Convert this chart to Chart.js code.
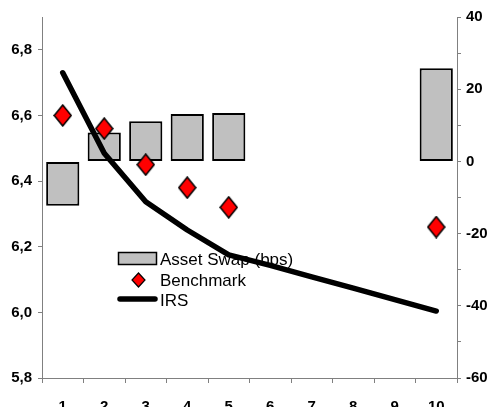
<!DOCTYPE html>
<html>
<head>
<meta charset="utf-8">
<style>
  html, body { margin: 0; padding: 0; background: #ffffff; }
  #wrap { width: 488px; height: 407px; }
</style>
<script src="https://cdn.jsdelivr.net/npm/chart.js@4/dist/chart.umd.min.js"></script>
</head>
<body>
<div id="wrap"><canvas id="chart" width="488" height="407"></canvas></div>
<script>
// Maturities (years)
const categories = ['1', '2', '3', '4', '5', '6', '7', '8', '9', '10'];
// Yields, left axis (%)
const irsYield = [6.73, 6.485, 6.337, 6.251, 6.175, 6.143, 6.108, 6.074, 6.039, 6.004];
const benchmarkYield = [6.60, 6.56, 6.45, 6.38, 6.32, null, null, null, null, 6.26];
// Asset swap spread, right axis (bps)
const assetSwapBps = [-12.3, 8.0, 11.1, 13.1, 13.4, null, null, null, null, 25.8];
// Axis ticks
const leftTicks = [5.8, 6.0, 6.2, 6.4, 6.6, 6.8];
const rightTicks = [-60, -50, -40, -30, -20, -10, 0, 10, 20, 30, 40];
const rightLabelled = [-60, -40, -20, 0, 20, 40];

const FONT = '"Liberation Sans", Arial, sans-serif';
const AXIS_GREY = '#808080';

// Diamond marker drawn into a small canvas so it can be taller than wide
function makeDiamond(w, h, lw) {
  const c = document.createElement('canvas');
  c.width = w + 2; c.height = h + 2;
  const g = c.getContext('2d');
  const cx = c.width / 2, cy = c.height / 2;
  g.beginPath();
  g.moveTo(cx, cy - h / 2);
  g.lineTo(cx + w / 2, cy);
  g.lineTo(cx, cy + h / 2);
  g.lineTo(cx - w / 2, cy);
  g.closePath();
  g.fillStyle = '#ff0000';
  g.fill();
  g.lineWidth = lw;
  g.strokeStyle = '#000000';
  g.lineJoin = 'miter';
  g.stroke();
  return c;
}
const diamond = makeDiamond(17, 21, 1.5);

// Legend drawn inside the plot area, underneath the series
const insideLegend = {
  id: 'insideLegend',
  beforeDatasetsDraw(chart) {
    const ctx = chart.ctx;
    const ds = chart.data.datasets;
    const textX = 160;
    ctx.save();
    ctx.font = '17px ' + FONT;
    ctx.fillStyle = '#000000';
    ctx.textBaseline = 'alphabetic';
    ctx.textAlign = 'left';

    // Asset swap swatch
    ctx.fillStyle = '#c0c0c0';
    ctx.fillRect(118.5, 252.5, 38, 12);
    ctx.lineWidth = 1.5;
    ctx.strokeStyle = '#000000';
    ctx.strokeRect(118.5, 252.5, 38, 12);
    ctx.fillStyle = '#000000';
    ctx.fillText(ds[2].label, textX, 265);

    // Benchmark marker
    ctx.beginPath();
    ctx.moveTo(138.5, 273);
    ctx.lineTo(145, 280);
    ctx.lineTo(138.5, 287);
    ctx.lineTo(132, 280);
    ctx.closePath();
    ctx.fillStyle = '#ff0000';
    ctx.fill();
    ctx.lineWidth = 1.2;
    ctx.stroke();
    ctx.fillStyle = '#000000';
    ctx.fillText(ds[0].label, textX, 285.5);

    // IRS line
    ctx.beginPath();
    ctx.moveTo(120, 299);
    ctx.lineTo(155, 299);
    ctx.lineWidth = 5.5;
    ctx.lineCap = 'round';
    ctx.stroke();
    ctx.fillText(ds[1].label, textX, 306);
    ctx.restore();
  }
};

const tickFont = { family: FONT, size: 15, weight: 'bold' };

new Chart(document.getElementById('chart'), {
  data: {
    labels: categories,
    datasets: [
      {
        type: 'line',
        label: 'Benchmark',
        data: benchmarkYield,
        yAxisID: 'y',
        showLine: false,
        pointStyle: diamond,
        pointRadius: 10,
        order: 0
      },
      {
        type: 'line',
        label: 'IRS',
        data: irsYield,
        yAxisID: 'y',
        borderColor: '#000000',
        borderWidth: 5.5,
        borderCapStyle: 'round',
        borderJoinStyle: 'round',
        tension: 0,
        pointRadius: 0,
        fill: false,
        order: 1
      },
      {
        type: 'bar',
        label: 'Asset Swap (bps)',
        data: assetSwapBps,
        yAxisID: 'y1',
        backgroundColor: '#c0c0c0',
        borderColor: '#000000',
        borderWidth: 2,
        borderSkipped: false,
        barPercentage: 0.8,
        categoryPercentage: 1.0,
        order: 2
      }
    ]
  },
  options: {
    responsive: false,
    animation: false,
    layout: { padding: { top: 17, left: 0, right: 0, bottom: 0 } },
    plugins: {
      legend: { display: false },
      tooltip: { enabled: false }
    },
    scales: {
      x: {
        type: 'category',
        offset: true,
        grid: { offset: true, drawOnChartArea: false, drawTicks: true, tickLength: 5, color: AXIS_GREY },
        border: { display: true, color: AXIS_GREY, width: 1 },
        ticks: { font: tickFont, color: '#000000', padding: 15, maxRotation: 0, autoSkip: false },
        afterFit(s) { s.height = 29; }
      },
      y: {
        type: 'linear',
        position: 'left',
        min: 5.8,
        max: 6.9,
        afterBuildTicks(s) { s.ticks = leftTicks.map(v => ({ value: v })); },
        grid: { drawOnChartArea: false, drawTicks: true, tickLength: 4, color: AXIS_GREY },
        border: { display: true, color: AXIS_GREY, width: 1 },
        ticks: {
          font: tickFont, color: '#000000', padding: 6,
          callback: v => Number(v).toFixed(1).replace('.', ',')
        },
        afterFit(s) { s.width = 42; }
      },
      y1: {
        type: 'linear',
        position: 'right',
        min: -60,
        max: 40,
        afterBuildTicks(s) { s.ticks = rightTicks.map(v => ({ value: v })); },
        grid: { drawOnChartArea: false, drawTicks: true, tickLength: 4, color: AXIS_GREY },
        border: { display: true, color: AXIS_GREY, width: 1 },
        ticks: {
          font: tickFont, color: '#000000', padding: 5, autoSkip: false,
          callback: v => rightLabelled.includes(v) ? String(v) : ''
        },
        afterFit(s) { s.width = 31; }
      }
    }
  },
  plugins: [insideLegend]
});
</script>
</body>
</html>
